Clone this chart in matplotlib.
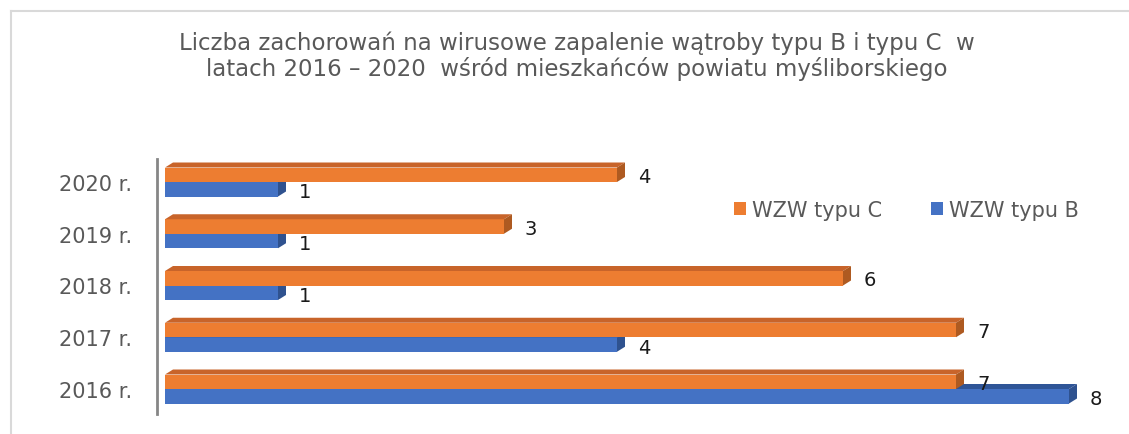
import matplotlib
matplotlib.use("Agg")
import matplotlib.pyplot as plt
from matplotlib.patches import Polygon, Patch
from matplotlib.lines import Line2D

categories = ["2016 r.", "2017 r.", "2018 r.", "2019 r.", "2020 r."]
wzw_c = [7, 7, 6, 3, 4]
wzw_b = [8, 4, 1, 1, 1]
series_names = ["WZW typu C", "WZW typu B"]
title = ("Liczba zachorowań na wirusowe zapalenie wątroby typu B i typu C  w\n"
         "latach 2016 – 2020  wśród mieszkańców powiatu myśliborskiego")

W, H = 1129, 435
fig = plt.figure(figsize=(W / 100, H / 100), dpi=100)
fig.patch.set_facecolor("white")

# frame lines (light grey, top and left)
fig.add_artist(Line2D([11 / W, 1.0], [1 - 12 / H, 1 - 12 / H], color="#d9d9d9", lw=1.5))
fig.add_artist(Line2D([11 / W, 11 / W], [0, 1 - 12 / H], color="#d9d9d9", lw=1.5))

# axes geometry in pixels
ax_left, ax_right = 157, 1129
ax_top, ax_bot = 160, 415
px_per_unit_x = 113.0
px_per_unit_y = 51.75
x0_px = 165  # where value 0 is
y_center_2016 = 390
y_center_2020 = 183

ax = fig.add_axes([ax_left / W, 1 - ax_bot / H, (ax_right - ax_left) / W, (ax_bot - ax_top) / H])
xmin = -(x0_px - ax_left) / px_per_unit_x
xmax = (ax_right - x0_px) / px_per_unit_x
ax.set_xlim(xmin, xmax)
ymin = -(ax_bot - y_center_2016) / px_per_unit_y
ymax = 4 + (y_center_2020 - ax_top) / px_per_unit_y
ax.set_ylim(ymin, ymax)

bar_h = 14.5 / px_per_unit_y
dx = 8 / px_per_unit_x
dy = 5 / px_per_unit_y

orange = "#ED7D31"
orange_top = "#C8642A"
orange_side = "#AE5A21"
blue = "#4472C4"
blue_top = "#2F5597"
blue_side = "#2F528F"

ypos = list(range(len(categories)))


def draw_bar(y, v, front, top, side):
    yb = y - bar_h / 2
    yt = y + bar_h / 2
    ax.add_patch(Polygon([(0, yb), (v, yb), (v, yt), (0, yt)], closed=True,
                         facecolor=front, edgecolor="none", zorder=3))
    ax.add_patch(Polygon([(0, yt), (v, yt), (v + dx, yt + dy), (dx, yt + dy)], closed=True,
                         facecolor=top, edgecolor="none", zorder=3))
    ax.add_patch(Polygon([(v, yb), (v + dx, yb + dy), (v + dx, yt + dy), (v, yt)], closed=True,
                         facecolor=side, edgecolor="none", zorder=3))


lab_off = 21 / px_per_unit_x
for i in ypos:
    draw_bar(i - bar_h / 2, wzw_b[i], blue, blue_top, blue_side)
    draw_bar(i + bar_h / 2, wzw_c[i], orange, orange_top, orange_side)
for i in ypos:
    ax.text(wzw_c[i] + lab_off, i + bar_h / 2 - 0.03, str(wzw_c[i]), ha="left", va="center",
            fontsize=14, color="#1a1a1a", zorder=5)
    ax.text(wzw_b[i] + lab_off, i - bar_h / 2 - 0.05, str(wzw_b[i]), ha="left", va="center",
            fontsize=14, color="#1a1a1a", zorder=5)

ax.set_yticks(ypos)
ax.set_yticklabels(categories, fontsize=15, color="#595959")
ax.tick_params(axis="y", length=0, pad=18)
ax.set_xticks([])
for s in ["top", "right", "bottom"]:
    ax.spines[s].set_visible(False)
ax.spines["left"].set_color("#868686")
ax.spines["left"].set_linewidth(2)
ax.patch.set_alpha(0)

fig.text(577 / W, 1 - 56 / H, title, ha="center", va="center", fontsize=16.5,
         color="#595959", linespacing=1.1)

handles = [Patch(facecolor=orange, edgecolor="none"), Patch(facecolor=blue, edgecolor="none")]
fig.legend(handles, series_names, loc="center left", bbox_to_anchor=(715 / W, 1 - 211 / H),
           ncol=2, frameon=False, fontsize=15, labelcolor="#595959",
           handlelength=0.6, handleheight=0.6, handletextpad=0.3, columnspacing=2.3)

fig.savefig("out.png", dpi=100, facecolor="white")
